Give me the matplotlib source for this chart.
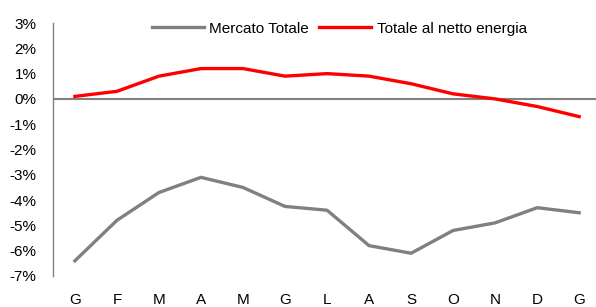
import matplotlib.pyplot as plt
import numpy as np

plt.rcParams['font.family'] = ['Liberation Sans', 'DejaVu Sans']

mesi = ['G', 'F', 'M', 'A', 'M', 'G', 'L', 'A', 'S', 'O', 'N', 'D', 'G']
mercato_totale = [-6.4, -4.8, -3.7, -3.1, -3.5, -4.25, -4.4, -5.8, -6.1, -5.2, -4.9, -4.3, -4.5]
netto_energia = [0.1, 0.3, 0.9, 1.2, 1.2, 0.9, 1.0, 0.9, 0.6, 0.2, 0.0, -0.3, -0.7]

x = np.arange(len(mesi))

fig = plt.figure(figsize=(5.96, 3.07), dpi=100)
ax = fig.add_axes([0.089, 0.101, 0.911, 0.824])

ax.axhline(0, color='#808080', lw=1.5, zorder=1)
ax.plot(x, mercato_totale, color='#808080', lw=2.4, label='Mercato Totale', zorder=2)
ax.plot(x, netto_energia, color='#ff0000', lw=2.4, label='Totale al netto energia', zorder=3)

ax.set_xlim(-0.52, 12.4)
ax.set_ylim(-7, 3)
ax.set_yticks(np.arange(-7, 4, 1))
ax.set_yticklabels([f'{v}%' for v in range(-7, 4)], fontsize=11)
ax.set_xticks(x)
ax.set_xticklabels(mesi, fontsize=11)
ax.tick_params(axis='both', length=0)
ax.tick_params(axis='x', pad=12)
ax.tick_params(axis='y', pad=12)
for s in ['top', 'right', 'bottom']:
    ax.spines[s].set_visible(False)
ax.spines['left'].set_color('#808080')
ax.spines['left'].set_linewidth(1.0)

ax.legend(loc='upper center', bbox_to_anchor=(0.527, 1.06), ncol=2, frameon=False,
          fontsize=11, handlelength=3.4, handletextpad=0.35, columnspacing=0.7)

fig.savefig('out.png', dpi=100)
